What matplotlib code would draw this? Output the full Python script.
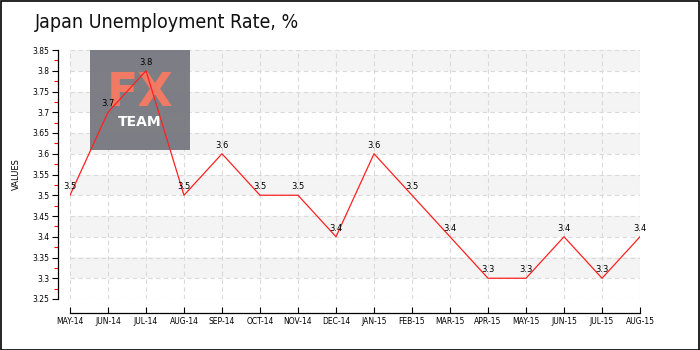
import matplotlib
matplotlib.use("Agg")
import matplotlib.pyplot as plt
from matplotlib.patches import Rectangle
from matplotlib.ticker import MultipleLocator

months = ["MAY-14", "JUN-14", "JUL-14", "AUG-14", "SEP-14", "OCT-14", "NOV-14", "DEC-14",
          "JAN-15", "FEB-15", "MAR-15", "APR-15", "MAY-15", "JUN-15", "JUL-15", "AUG-15"]
values = [3.5, 3.7, 3.8, 3.5, 3.6, 3.5, 3.5, 3.4, 3.6, 3.5, 3.4, 3.3, 3.3, 3.4, 3.3, 3.4]
yticks = [3.25, 3.3, 3.35, 3.4, 3.45, 3.5, 3.55, 3.6, 3.65, 3.7, 3.75, 3.8, 3.85]

W, H = 700, 350
fig = plt.figure(figsize=(7, 3.5), dpi=100)
fig.patch.set_facecolor("white")
fig.add_artist(Rectangle((0.5 / W, 0.5 / H), 1 - 1.5 / W, 1 - 1.5 / H, transform=fig.transFigure,
                         fill=False, edgecolor="black", linewidth=1.2))

x0, x1 = 70, 640
ytop, ybot = 50, 299
ax = fig.add_axes([x0 / W, (H - ybot) / H, (x1 - x0) / W, (ybot - ytop) / H])
ax.set_xlim(0, len(months) - 1)
ax.set_ylim(3.25, 3.85)
ax.set_facecolor("none")

for s in ["top", "right"]:
    ax.spines[s].set_visible(False)
ax.spines["left"].set_position(("outward", 9))
ax.spines["bottom"].set_position(("outward", 10))
ax.spines["left"].set_linewidth(0.9)
ax.spines["bottom"].set_linewidth(0.9)

# alternating bands
for i in range(len(yticks) - 1):
    if i % 2 == 1:
        ax.axhspan(yticks[i], yticks[i + 1], color="#f4f4f4", zorder=0, lw=0)

ax.grid(True, color="#dadada", linestyle=(0, (4, 3)), linewidth=0.8, zorder=1)

# logo watermark (above grid, semi-opaque)
ax.add_artist(Rectangle((90 / W, (H - 150) / H), 100 / W, 100 / H, transform=fig.transFigure,
                        facecolor="#77777f", edgecolor="none", alpha=0.95, zorder=2.7))
ax.text(140 / W, (H - 93) / H, "FX", color="#f07a64", fontsize=33, fontweight="bold",
        ha="center", va="center", zorder=2.8, transform=fig.transFigure)
ax.text(140 / W, (H - 122) / H, "TEAM", color="white", fontsize=10, fontweight="bold",
        ha="center", va="center", zorder=2.8, transform=fig.transFigure)

xs = list(range(len(months)))
ax.plot(xs, values, color="#ff2020", linewidth=0.9, zorder=3)
for x, v in zip(xs, values):
    ax.annotate(f"{v:g}", (x, v), xytext=(-5, 3), textcoords="offset points",
                fontsize=6, ha="left", va="bottom", zorder=4, color="black")

ax.set_xticks(xs)
ax.set_xticklabels(months)
ax.set_yticks(yticks)
ax.set_yticklabels([f"{t:g}" for t in yticks])
ax.yaxis.set_minor_locator(MultipleLocator(0.025))
ax.tick_params(axis="y", which="minor", length=3, color="red", width=0.8)
ax.tick_params(axis="y", which="major", length=4, width=0.8, pad=2, labelsize=5.5)
ax.tick_params(axis="x", which="major", length=4, width=0.8, direction="in", pad=3, labelsize=5.5)

ax.set_ylabel("VALUES", fontsize=6, labelpad=8)

fig.text(35 / W, (H - 22) / H, "Japan Unemployment Rate, %", fontsize=14, ha="left", va="center",
         color="#111111", stretch="condensed")

fig.savefig("out.png", dpi=100)
